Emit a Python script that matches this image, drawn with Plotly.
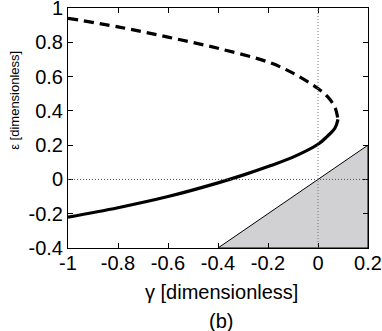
import plotly.graph_objects as go

# upper (unstable, dashed) branch
gamma_upper = [-1.0, -0.8, -0.6, -0.4, -0.2, -0.1, 0.0, 0.04, 0.068, 0.08]
eps_upper = [0.94, 0.89, 0.83, 0.765, 0.685, 0.62, 0.53, 0.48, 0.42, 0.35]

# lower (stable, solid) branch
gamma_lower = [0.08, 0.068, 0.036, 0.0, -0.1, -0.2, -0.3, -0.4, -0.6, -0.8, -1.0]
eps_lower = [0.35, 0.30, 0.25, 0.205, 0.13, 0.075, 0.025, -0.02, -0.10, -0.165, -0.22]

# shaded region below eps = gamma
region_gamma = [-0.4, 0.2, 0.2, -0.4]
region_eps = [-0.4, 0.2, -0.4, -0.4]

x_ticks = [-1, -0.8, -0.6, -0.4, -0.2, 0, 0.2]
y_ticks = [-0.4, -0.2, 0, 0.2, 0.4, 0.6, 0.8, 1]

font = "Liberation Sans, Arial, sans-serif"

fig = go.Figure()
fig.add_trace(go.Scatter(
    x=region_gamma, y=region_eps, mode="lines", fill="toself",
    fillcolor="#d1d0d2", line=dict(color="black", width=1),
))
fig.add_trace(go.Scatter(
    x=gamma_upper, y=eps_upper, mode="lines", line_shape="spline",
    line=dict(color="black", width=3.2, dash="10px,6px"),
))
fig.add_trace(go.Scatter(
    x=gamma_lower, y=eps_lower, mode="lines", line_shape="spline",
    line=dict(color="black", width=3.2),
))

# zero reference lines
fig.add_shape(type="line", xref="x", yref="paper", x0=0, x1=0, y0=0, y1=1,
              line=dict(color="#777777", width=1, dash="1px,2px"), layer="above")
fig.add_shape(type="line", xref="paper", yref="y", x0=0, x1=1, y0=0, y1=0,
              line=dict(color="#555555", width=1, dash="1px,2px"), layer="above")

axis_common = dict(
    showgrid=False, zeroline=False, showline=True, linecolor="black", linewidth=1,
    mirror="ticks", ticks="inside", ticklen=5, tickcolor="black",
    tickfont=dict(size=20, color="black"), ticklabeloverflow="allow",
    automargin=False,
)

fig.update_layout(
    width=382, height=331,
    margin=dict(l=68, r=14, t=8, b=83),
    paper_bgcolor="white", plot_bgcolor="white",
    showlegend=False,
    font=dict(family=font, color="black"),
    xaxis=dict(range=[-1, 0.2], tickvals=x_ticks, ticktext=[f"{v:g}" for v in x_ticks],
               ticklabelstandoff=-3, **axis_common),
    yaxis=dict(range=[-0.4, 1], tickvals=y_ticks, ticktext=[f"{v:g}" for v in y_ticks],
               **axis_common),
    annotations=[
        dict(text="γ [dimensionless]", xref="paper", yref="paper", x=0.51, y=-0.183,
             showarrow=False, font=dict(size=20), xanchor="center", yanchor="middle"),
        dict(text="ε [dimensionless]", xref="paper", yref="paper", x=-0.177, y=0.617,
             showarrow=False, font=dict(size=13), textangle=-90,
             xanchor="center", yanchor="middle"),
        dict(text="(b)", xref="paper", yref="paper", x=0.51, y=-0.304,
             showarrow=False, font=dict(size=20), xanchor="center", yanchor="middle"),
    ],
)

# the page's default body margin would shift the figure by 8px
fig.write_html("out.html", config={"displayModeBar": False},
               post_script="document.body.style.margin='0';")
